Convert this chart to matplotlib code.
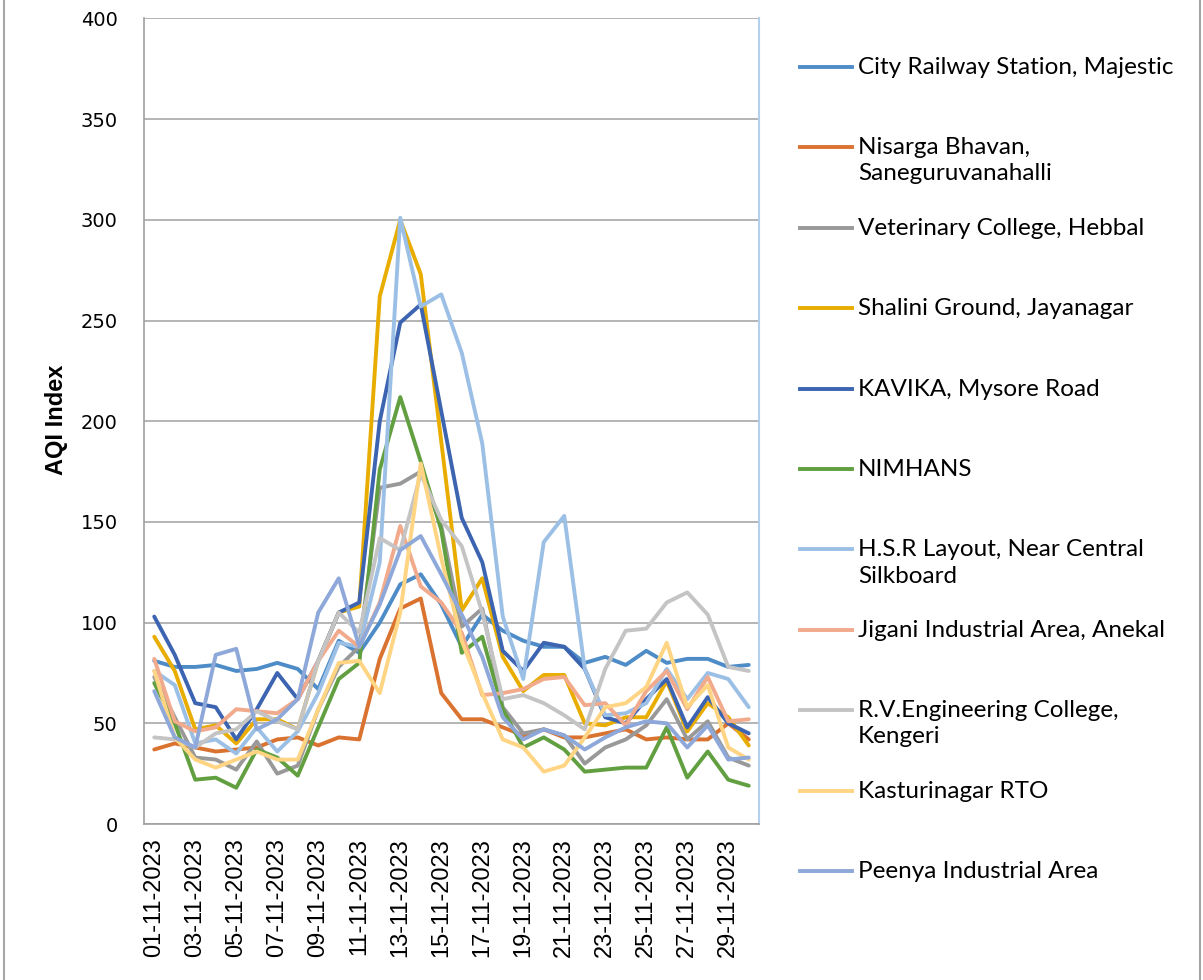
import matplotlib.pyplot as plt
from matplotlib.lines import Line2D

# AQI readings, November 2023
dates = [f"{d:02d}-11-2023" for d in range(1, 31)]

stations = [
    "City Railway Station, Majestic",
    "Nisarga Bhavan,\nSaneguruvanahalli",
    "Veterinary College, Hebbal",
    "Shalini Ground, Jayanagar",
    "KAVIKA, Mysore Road",
    "NIMHANS",
    "H.S.R Layout, Near Central\nSilkboard",
    "Jigani Industrial Area, Anekal",
    "R.V.Engineering College,\nKengeri",
    "Kasturinagar RTO",
    "Peenya Industrial Area",
]

city = [81, 78, 78, 79, 76, 77, 80, 77, 67, 91, 85, 100, 119, 124, 109, 88, 104, 96, 91, 88,
        88, 80, 83, 79, 86, 80, 82, 82, 78, 79]
nisarga = [37, 40, 38, 36, 37, 38, 42, 43, 39, 43, 42, 82, 107, 112, 65, 52, 52, 48, 44, 47,
           43, 43, 45, 47, 42, 43, 42, 42, 50, 42]
hebbal = [73, 53, 33, 32, 27, 41, 25, 29, 57, 78, 88, 167, 169, 175, 148, 98, 107, 58, 45, 47,
          44, 30, 38, 42, 49, 62, 42, 51, 33, 29]
shalini = [93, 76, 47, 49, 40, 52, 52, 47, 81, 105, 108, 262, 300, 273, 190, 106, 122, 83, 66, 74,
           74, 50, 49, 53, 53, 71, 46, 60, 53, 39]
kavika = [103, 84, 60, 58, 42, 57, 75, 62, 81, 105, 110, 200, 249, 258, 205, 152, 130, 86, 76, 90,
          88, 77, 53, 50, 62, 72, 48, 63, 50, 45]
nimhans = [70, 50, 22, 23, 18, 37, 33, 24, 48, 72, 80, 176, 212, 180, 146, 85, 93, 57, 38, 43,
           37, 26, 27, 28, 28, 48, 23, 36, 22, 19]
hsr = [76, 69, 40, 42, 35, 48, 36, 46, 65, 90, 88, 130, 301, 257, 263, 234, 189, 103, 72, 140,
       153, 77, 54, 55, 60, 77, 62, 75, 72, 58]
jigani = [82, 51, 46, 48, 57, 56, 55, 62, 81, 96, 88, 110, 148, 118, 110, 95, 64, 65, 67, 72,
          73, 59, 60, 49, 66, 76, 57, 73, 51, 52]
rv = [43, 42, 38, 45, 47, 56, 51, 47, 81, 105, 95, 142, 136, 174, 151, 138, 105, 62, 64, 60,
      54, 47, 77, 96, 97, 110, 115, 104, 78, 76]
kasturi = [76, 43, 32, 28, 32, 36, 32, 32, 57, 80, 81, 65, 105, 179, 132, 91, 65, 42, 38, 26,
           29, 43, 58, 60, 68, 90, 58, 69, 38, 32]
peenya = [66, 43, 38, 84, 87, 47, 52, 62, 105, 122, 88, 109, 136, 143, 124, 104, 83, 53, 42, 47,
          44, 37, 43, 48, 51, 50, 38, 49, 32, 33]

series = [city, nisarga, hebbal, shalini, kavika, nimhans, hsr, jigani, rv, kasturi, peenya]
colors = ['#4E8CC8', '#DA7230', '#999999', '#E8AD00', '#3C64B0', '#629F40',
          '#9CC0E5', '#F2AA8C', '#C4C4C4', '#FFD583', '#8EA8DA']

W, H = 1203, 980
fig = plt.figure(figsize=(W / 100, H / 100), dpi=100)
ax = fig.add_axes([144 / W, 1 - 824 / H, (759 - 144) / W, (824 - 18.5) / H])

x = list(range(len(dates)))
for vals, col in zip(series, colors):
    ax.plot(x, vals, color=col, lw=2.8, solid_joinstyle='round', solid_capstyle='round')

ax.set_xlim(-0.5, len(dates) - 0.5)
ax.set_ylim(0, 400)
ax.set_yticks(range(0, 401, 50))
ax.yaxis.grid(True, color='#A0A0A0', lw=1.1)
ax.set_axisbelow(True)
ax.set_xticks(x[::2])
ax.set_xticklabels(dates[::2], rotation=90, fontsize=17, family='Liberation Sans')
ax.tick_params(axis='y', length=0, pad=19, labelsize=14)
ax.tick_params(axis='x', length=0, pad=10)
for s in ['left', 'bottom']:
    ax.spines[s].set_color('#A0A0A0')
    ax.spines[s].set_linewidth(1.2)
ax.spines['top'].set_visible(False)
ax.spines['right'].set_color('#B4D0EC')
ax.spines['right'].set_linewidth(1.5)

fig.text(57 / W, 1 - 420 / H, 'AQI Index', rotation=90, ha='center', va='center',
         fontsize=17, fontweight='bold', family='Liberation Sans')

# legend drawn by hand to keep the Excel spacing
for k, (name, col) in enumerate(zip(stations, colors)):
    yy = 1 - (67 + 80.4 * k) / H
    fig.add_artist(Line2D([800 / W, 852 / W], [yy, yy], color=col, lw=2.8,
                          transform=fig.transFigure))
    fig.text(858 / W, yy + 10 / H, name, ha='left', va='top', fontsize=17.5,
             family='Lato', linespacing=1.3)

# outer chart border
for xb in [4, 1200]:
    fig.add_artist(Line2D([xb / W, xb / W], [0, 1], color='#A6A6A6', lw=1.5,
                          transform=fig.transFigure))

fig.savefig('out.png', dpi=100)
